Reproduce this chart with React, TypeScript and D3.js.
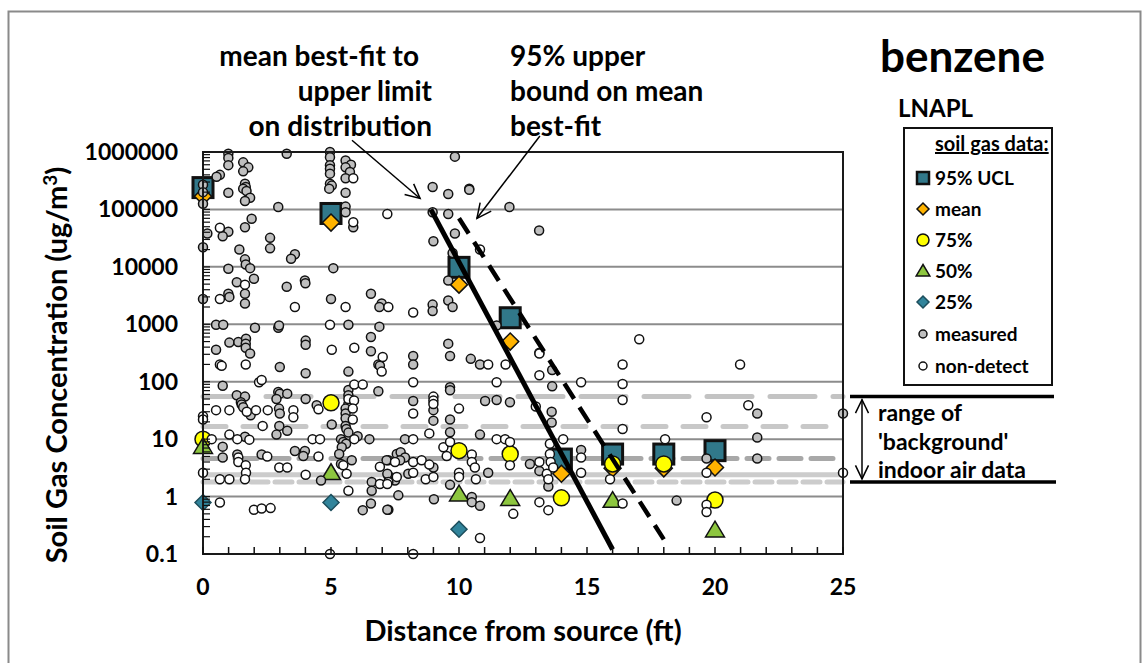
import React from "react";
import * as d3 from "d3";

// measured soil gas points [distance ft, ug/m3]
const measured: [number, number][] = [
  [0.99, 9.3e5], [0.99, 7.9e5], [0.99, 5.9e5], [1.57, 6.6e5], [1.77, 5.4e5], [1.57, 4.6e5],
  [0.66, 4.0e5], [0.53, 3.7e5], [3.27, 9.3e5], [4.96, 1.0e6], [4.96, 8.1e5], [4.96, 5.9e5],
  [4.96, 5.1e5], [4.96, 4.2e5], [5.57, 7.1e5], [5.78, 6.0e5], [5.57, 5.4e5], [5.74, 4.5e5],
  [5.57, 3.5e5], [4.96, 2.8e5], [5.03, 2.6e5], [4.93, 2.3e5], [5.57, 1.95e5], [1.64, 2.8e5],
  [1.67, 2.45e5], [1.57, 2.3e5], [1.7, 2.1e5], [0.99, 1.95e5], [0, 2.7e5], [0, 2.0e5],
  [0, 1.26e5], [1.84, 1.6e5], [1.64, 1.4e5], [2.94, 1.1e5], [5.57, 1.12e5], [5.57, 8.9e4],
  [5.87, 4.9e4], [1.9, 6.9e4], [1.64, 4.9e4], [0.99, 4.1e4], [0.77, 3.4e4], [0.17, 3.8e4],
  [0, 2.2e4], [2.62, 3.2e4], [2.62, 2.1e4], [1.42, 2.0e4], [3.59, 1.66e4], [3.44, 1.38e4],
  [1.64, 1.35e4], [1.67, 1.1e4], [1.84, 9500], [0.99, 9300], [5.09, 9500], [1.99, 6200],
  [1.32, 5400], [3.27, 4500], [3.98, 5800], [4.0, 5200], [1.64, 3400], [1.64, 2300],
  [0.99, 3400], [1.03, 3000], [0, 2750], [5.0, 2750], [6.56, 3400], [6.98, 2300], [6.89, 2000],
  [0.51, 980], [0.79, 980], [2.03, 870], [2.94, 870], [2.97, 950], [5.68, 980], [6.89, 910],
  [0.51, 360], [1.03, 480], [1.38, 490], [1.68, 560], [1.67, 460], [1.67, 390], [1.84, 310],
  [4.01, 520], [4.01, 440], [6.56, 600], [6.56, 340], [6.85, 200], [6.91, 190], [3.0, 180],
  [4.01, 140], [5.68, 150], [0.77, 85], [5.68, 72], [5.68, 58], [5.68, 41], [5.57, 34],
  [5.57, 28], [5.57, 23], [5.57, 17], [5.6, 15], [5.68, 13], [6.85, 68], [1.32, 58], [1.64, 55],
  [1.48, 44], [1.51, 40], [2.94, 66], [3.0, 62], [3.29, 62], [2.87, 50], [4.01, 50], [4.44, 39],
  [1.57, 36], [1.86, 26], [2.97, 34], [3.0, 28], [2.98, 17], [3.29, 14], [2.87, 12], [5.03, 18],
  [1.64, 11], [5.39, 10], [5.48, 8.9], [5.59, 8.3], [5.42, 7.2], [5.32, 5.5], [6.04, 11.2],
  [6.5, 10], [0.77, 7.4], [0.77, 4.8], [1.34, 5.4], [2.29, 5.4], [3.59, 6.2], [3.98, 6.2],
  [3.92, 5.1], [5.39, 3.7], [5.81, 4.3], [7.24, 4.3], [4.61, 1.9], [6.59, 1.8], [6.59, 1.26],
  [7.24, 2.3], [7.57, 5.5], [6.24, 0.58], [6.56, 0.76], [7.24, 0.59],
  [9.84, 8.3e5], [8.97, 2.45e5], [9.58, 1.86e5], [10.4, 2.3e5], [10.4, 2.2e5], [11.97, 1.1e5],
  [8.97, 8.9e4], [9.58, 8.3e4], [13.13, 4.3e4], [9.84, 3.8e4], [9.0, 2.8e4], [9.75, 1.74e4],
  [9.58, 5800], [8.97, 2200], [8.97, 1700], [9.58, 2600], [9.75, 2000],
  [11.47, 950], [9.58, 460], [9.65, 280], [8.21, 280], [8.21, 200], [10.46, 250], [10.82, 200],
  [13.64, 160], [13.64, 83], [9.65, 80], [9.65, 71], [8.21, 46], [11.02, 46], [11.47, 48],
  [11.99, 44], [9.0, 32], [9.0, 21], [9.65, 22], [13.62, 30], [13.62, 19.5], [9.65, 13.2],
  [10.82, 12], [7.89, 10], [14.77, 6.5], [7.72, 5.9], [7.89, 4.8], [7.17, 4.3], [7.7, 4.3],
  [9.0, 3.2], [7.2, 2.5], [8.02, 2.5], [7.5, 1.9], [9.65, 1.6], [11.14, 2.6], [12.77, 3.7],
  [13.14, 2.8], [13.49, 1.5], [7.63, 1.05], [9.02, 0.9], [10.5, 0.98], [10.5, 0.8],
  [10.82, 0.69], [7.2, 0.59],
  [21.65, 28], [21.65, 10.7], [21.65, 4.6], [25, 28], [19.67, 4.6], [18.5, 0.85],
];

// non-detect points [distance ft, ug/m3]
const nonDetect: [number, number][] = [
  [5.87, 3.5e5], [7.2, 8.3e4], [5.87, 6.0e4], [0.66, 4.8e4], [1.64, 4900], [0.66, 2750],
  [3.59, 2000], [5.57, 2000], [7.24, 2000], [4.96, 980], [5.03, 360], [5.91, 390], [7.02, 270],
  [6.98, 150], [0.66, 200], [0.73, 190], [1.67, 200], [2.19, 98], [2.29, 107], [5.91, 89],
  [6.24, 89], [5.68, 50], [5.9, 47], [5.85, 34], [5.85, 22], [4.51, 33], [0.51, 32], [1.03, 32],
  [1.71, 30], [2.07, 32], [2.53, 32], [3.53, 32], [3.53, 24], [0, 25], [0, 22], [2.33, 17],
  [0.34, 10], [1.03, 12], [1.34, 10], [1.81, 9.8], [4.28, 10], [4.57, 10], [5.91, 10],
  [1.38, 4.8], [1.38, 4.0], [1.67, 3.5], [1.68, 2.6], [2.51, 5.0], [4.51, 5.0], [2.98, 3.2],
  [3.29, 3.2], [4.01, 2.4], [5.48, 3.5], [5.61, 2.5], [6.91, 3.3], [0.66, 2.0], [1.03, 2.0],
  [1.64, 2.0], [0, 2.6], [5.68, 1.26], [6.91, 1.66], [7.24, 1.8], [0.66, 0.79], [1.99, 0.59],
  [2.29, 0.62], [2.64, 0.63], [4.96, 0.1],
  [10.82, 2.0e4], [8.21, 1600],
  [11.14, 200], [11.82, 200], [13.14, 320], [13.14, 310], [13.14, 130], [14.77, 98], [8.21, 98],
  [11.47, 98], [9.0, 55], [9.0, 47], [9.0, 41], [10, 34], [8.21, 28], [13.0, 37], [8.84, 12.6],
  [11.47, 10], [11.8, 10], [11.99, 8.9], [8.21, 10], [13.55, 8.3], [13.55, 5.5], [14.07, 10],
  [9.39, 7.2], [9.52, 5.1], [9.65, 8.9], [10.5, 5.4], [10.5, 4.0], [10.62, 3.2], [7.5, 4.0],
  [8.21, 4.0], [8.54, 4.3], [8.84, 3.6], [7.57, 2.2], [8.21, 2.6], [7.2, 1.66], [8.7, 2.0],
  [9.0, 2.2], [10, 2.6], [10, 2.2], [10.66, 2.0], [11.99, 3.5], [13.14, 4.0], [13.43, 2.5],
  [13.49, 2.0], [13.58, 4.0], [13.68, 3.2], [14.77, 4.8], [14.77, 2.6], [12.12, 0.5],
  [13.14, 0.8], [13.49, 0.58], [10.82, 0.19], [8.21, 0.1],
  [17.04, 550], [16.39, 200], [16.39, 91], [16.39, 48], [16.39, 15], [20.98, 200], [21.3, 39],
  [19.67, 24], [25, 2.6], [18.05, 10], [19.67, 2.6], [15.9, 2.0], [16.39, 0.76], [19.67, 0.72],
  [19.67, 0.54],
];

// summary statistics by distance
const statDist = [0, 5, 10, 12, 14, 16, 18, 20];
const ucl95 = [240000, 85000, 9800, 1300, 4.5, 5.5, 5.5, 6.3];
const meanVals = [170000, 59000, 4900, 500, 2.5, 3.1, 3.1, 3.2];
const p75 = [10, 43, 6.3, 5.5, 0.95, 3.7, 3.7, 0.87];
const p50Dist = [0, 5, 10, 12, 16, 20];
const p50 = [7.4, 2.6, 1.1, 0.92, 0.85, 0.26];
const p25Dist = [0, 5, 10];
const p25 = [0.79, 0.79, 0.27];

// best-fit lines
const meanFit: [number, number][] = [[8.9, 100000], [16, 0.12]];
const uclFit: [number, number][] = [[10, 70000], [18, 0.18]];

// background indoor air levels
const bgLevels = [55, 16.6, 4.6, 2.4, 1.8];
const bgStyle = [
  { c: "#c3c3c3", d: "45 18" },
  { c: "#c8c8c8", d: "23 17" },
  { c: "#a8a8a8", d: "22 10" },
  { c: "#cccccc", d: "" },
  { c: "#cccccc", d: "17 7" },
];

const yTicks = [0.1, 1, 10, 100, 1000, 10000, 100000, 1000000];
const xTicks = [0, 5, 10, 15, 20, 25];

const FONT = "Lato, 'DejaVu Sans', sans-serif";

const x = d3.scaleLinear().domain([0, 25]).range([203, 843]);
const y = d3.scaleLog().domain([0.1, 1e6]).range([554, 152]);

const diamond = (cx: number, cy: number, r: number) =>
  `M${cx},${cy - r}L${cx + r},${cy}L${cx},${cy + r}L${cx - r},${cy}Z`;
const triangle = (cx: number, cy: number, r: number) =>
  `M${cx},${cy - r}L${cx + r * 1.05},${cy + r * 0.75}L${cx - r * 1.05},${cy + r * 0.75}Z`;

const arrowHead = (x1: number, y1: number, x2: number, y2: number, len = 16, ang = 0.45) => {
  const a = Math.atan2(y1 - y2, x1 - x2);
  return `M${x2 + len * Math.cos(a + ang)},${y2 + len * Math.sin(a + ang)}L${x2},${y2}L${x2 + len * Math.cos(a - ang)},${y2 + len * Math.sin(a - ang)}`;
};

export default function App() {
  const line = d3.line<[number, number]>().x((d) => x(d[0])).y((d) => y(d[1]));
  const minor = y.ticks();
  const xMinor = d3.range(0, 26, 1);

  // annotation arrows (data coords)
  const a1s = [x(5.82), y(1.6e6)], a1e = [x(8.48), y(1.55e5)];
  const a2s = [x(13.16), y(1.9e6)], a2e = [x(10.7), y(7e4)];

  const legendItems = ["95% UCL", "mean", "75%", "50%", "25%", "measured", "non-detect"];
  const legY = [178, 209, 240, 271, 302, 334, 366];
  const lx = 923;

  const rTop = y(bgLevels[0]);
  const rBot = y(bgLevels[4]);

  return (
    <svg width={1145} height={663} style={{ position: "absolute", left: 0, top: 0, background: "#fff" }} fontFamily={FONT}>
      <rect x={8.5} y={11.5} width={1132} height={700} fill="none" stroke="#8a8a8a" strokeWidth={2} />

      {/* gridlines */}
      {yTicks.map((t) => (
        <line key={t} x1={x(0)} x2={x(25)} y1={y(t)} y2={y(t)} stroke="#8c8c8c" strokeWidth={2} />
      ))}

      {/* background levels */}
      {bgLevels.map((v, i) => (
        <line key={i} x1={x(0)} x2={x(25)} y1={y(v)} y2={y(v)} stroke={bgStyle[i].c}
          strokeWidth={5} strokeDasharray={bgStyle[i].d} strokeLinecap="round" />
      ))}

      {/* summary markers */}
      {statDist.map((d, i) => (
        <rect key={"u" + i} x={x(d) - 10} y={y(ucl95[i]) - 10} width={20} height={20}
          fill="#31788a" stroke="#111" strokeWidth={3} />
      ))}
      {statDist.map((d, i) => (
        <path key={"m" + i} d={diamond(x(d), y(meanVals[i]), 8.5)} fill="#ffb300" stroke="#111" strokeWidth={1.5} />
      ))}
      {statDist.map((d, i) => (
        <circle key={"p75" + i} cx={x(d)} cy={y(p75[i])} r={8} fill="#ffff00" stroke="#111" strokeWidth={1.5} />
      ))}
      {p50Dist.map((d, i) => (
        <path key={"p50" + i} d={triangle(x(d), y(p50[i]), 9)} fill="#8dc63f" stroke="#111" strokeWidth={1.5} />
      ))}
      {p25Dist.map((d, i) => (
        <path key={"p25" + i} d={diamond(x(d), y(p25[i]), 8)} fill="#31849b" stroke="#1d4e5c" strokeWidth={1.5} />
      ))}

      {/* data points */}
      {measured.map((p, i) => (
        <circle key={"g" + i} cx={x(p[0])} cy={y(p[1])} r={4.5} fill="#bfbfbf" stroke="#111" strokeWidth={1.5} />
      ))}
      {nonDetect.map((p, i) => (
        <circle key={"w" + i} cx={x(p[0])} cy={y(p[1])} r={4.5} fill="#fff" stroke="#111" strokeWidth={1.5} />
      ))}

      {/* fit lines */}
      <path d={line(meanFit) || ""} fill="none" stroke="#000" strokeWidth={5} />
      <path d={line(uclFit) || ""} fill="none" stroke="#000" strokeWidth={4.5} strokeDasharray="18 10" />

      {/* axes frame */}
      <rect x={x(0)} y={y(1e6)} width={x(25) - x(0)} height={y(0.1) - y(1e6)} fill="none" stroke="#1a1a1a" strokeWidth={2} />
      {minor.map((t, i) => (
        <line key={"yt" + i} x1={x(0)} x2={x(0) + 7} y1={y(t)} y2={y(t)} stroke="#111" strokeWidth={1.2} />
      ))}
      {xMinor.map((t) => (
        <line key={"xt" + t} x1={x(t)} x2={x(t)} y1={y(0.1)} y2={y(0.1) - 7} stroke="#111" strokeWidth={1.5} />
      ))}

      {/* tick labels */}
      {yTicks.map((t) => (
        <text key={"yl" + t} x={178} y={y(t) + 8} textAnchor="end" fontSize={23} fontWeight="bold">
          {t < 1 ? "0.1" : String(t)}
        </text>
      ))}
      {xTicks.map((t) => (
        <text key={"xl" + t} x={x(t)} y={595} textAnchor="middle" fontSize={23} fontWeight="bold">{t}</text>
      ))}

      <text transform={`translate(67,${365}) rotate(-90)`} textAnchor="middle" fontSize={29} fontWeight="bold">
        Soil Gas Concentration (ug/m<tspan dy={-10} fontSize={19}>3</tspan><tspan dy={10}>)</tspan>
      </text>
      <text x={523} y={641} textAnchor="middle" fontSize={29} fontWeight="bold">Distance from source (ft)</text>

      {/* annotations */}
      <g fontSize={28} fontWeight="bold">
        <text x={419} y={66} textAnchor="end">mean best-fit to</text>
        <text x={432} y={101} textAnchor="end">upper limit</text>
        <text x={432} y={136} textAnchor="end">on distribution</text>
        <text x={510} y={66}>95% upper</text>
        <text x={510} y={101}>bound on mean</text>
        <text x={510} y={136}>best-fit</text>
      </g>
      <line x1={a1s[0]} y1={a1s[1]} x2={a1e[0]} y2={a1e[1]} stroke="#000" strokeWidth={1.5} />
      <path d={arrowHead(a1s[0], a1s[1], a1e[0], a1e[1])} fill="none" stroke="#000" strokeWidth={1.5} />
      <line x1={a2s[0]} y1={a2s[1]} x2={a2e[0]} y2={a2e[1]} stroke="#000" strokeWidth={1.5} />
      <path d={arrowHead(a2s[0], a2s[1], a2e[0], a2e[1])} fill="none" stroke="#000" strokeWidth={1.5} />

      {/* title & legend */}
      <text x={880} y={72} fontSize={44} fontWeight="bold">benzene</text>
      <text x={898} y={117} fontSize={24} fontWeight="bold">LNAPL</text>
      <rect x={904} y={128} width={148} height={257} fill="#fff" stroke="#111" strokeWidth={2} />
      <text x={935} y={151} fontSize={20} fontWeight="bold" textDecoration="underline">soil gas data:</text>
      <rect x={lx - 6} y={legY[0] - 6} width={12} height={12} fill="#31788a" stroke="#111" strokeWidth={2.5} />
      <path d={diamond(lx, legY[1], 6)} fill="#ffb300" stroke="#111" strokeWidth={1.5} />
      <circle cx={lx} cy={legY[2]} r={6} fill="#ffff00" stroke="#111" strokeWidth={1.5} />
      <path d={triangle(lx, legY[3], 6.5)} fill="#8dc63f" stroke="#111" strokeWidth={1.5} />
      <path d={diamond(lx, legY[4], 6)} fill="#31849b" stroke="#1d4e5c" strokeWidth={1.5} />
      <circle cx={lx} cy={legY[5]} r={4} fill="#bfbfbf" stroke="#111" strokeWidth={1.5} />
      <circle cx={lx} cy={legY[6]} r={4} fill="#fff" stroke="#111" strokeWidth={1.5} />
      {legendItems.map((s, i) => (
        <text key={s} x={935} y={legY[i] + 7} fontSize={19} fontWeight="bold">{s}</text>
      ))}

      {/* background range annotation */}
      <line x1={850} x2={1054} y1={rTop} y2={rTop} stroke="#000" strokeWidth={3.5} />
      <line x1={850} x2={1056} y1={rBot} y2={rBot} stroke="#000" strokeWidth={3.5} />
      <line x1={862} x2={862} y1={rTop + 3} y2={rBot - 3} stroke="#000" strokeWidth={1.5} />
      <path d={arrowHead(862, rBot, 862, rTop + 3, 15, 0.45)} fill="none" stroke="#000" strokeWidth={1.5} />
      <path d={arrowHead(862, rTop, 862, rBot - 3, 15, 0.45)} fill="none" stroke="#000" strokeWidth={1.5} />
      <g fontSize={23} fontWeight="bold">
        <text x={878} y={421}>range of</text>
        <text x={878} y={450}>'background'</text>
        <text x={878} y={478}>indoor air data</text>
      </g>
    </svg>
  );
}
